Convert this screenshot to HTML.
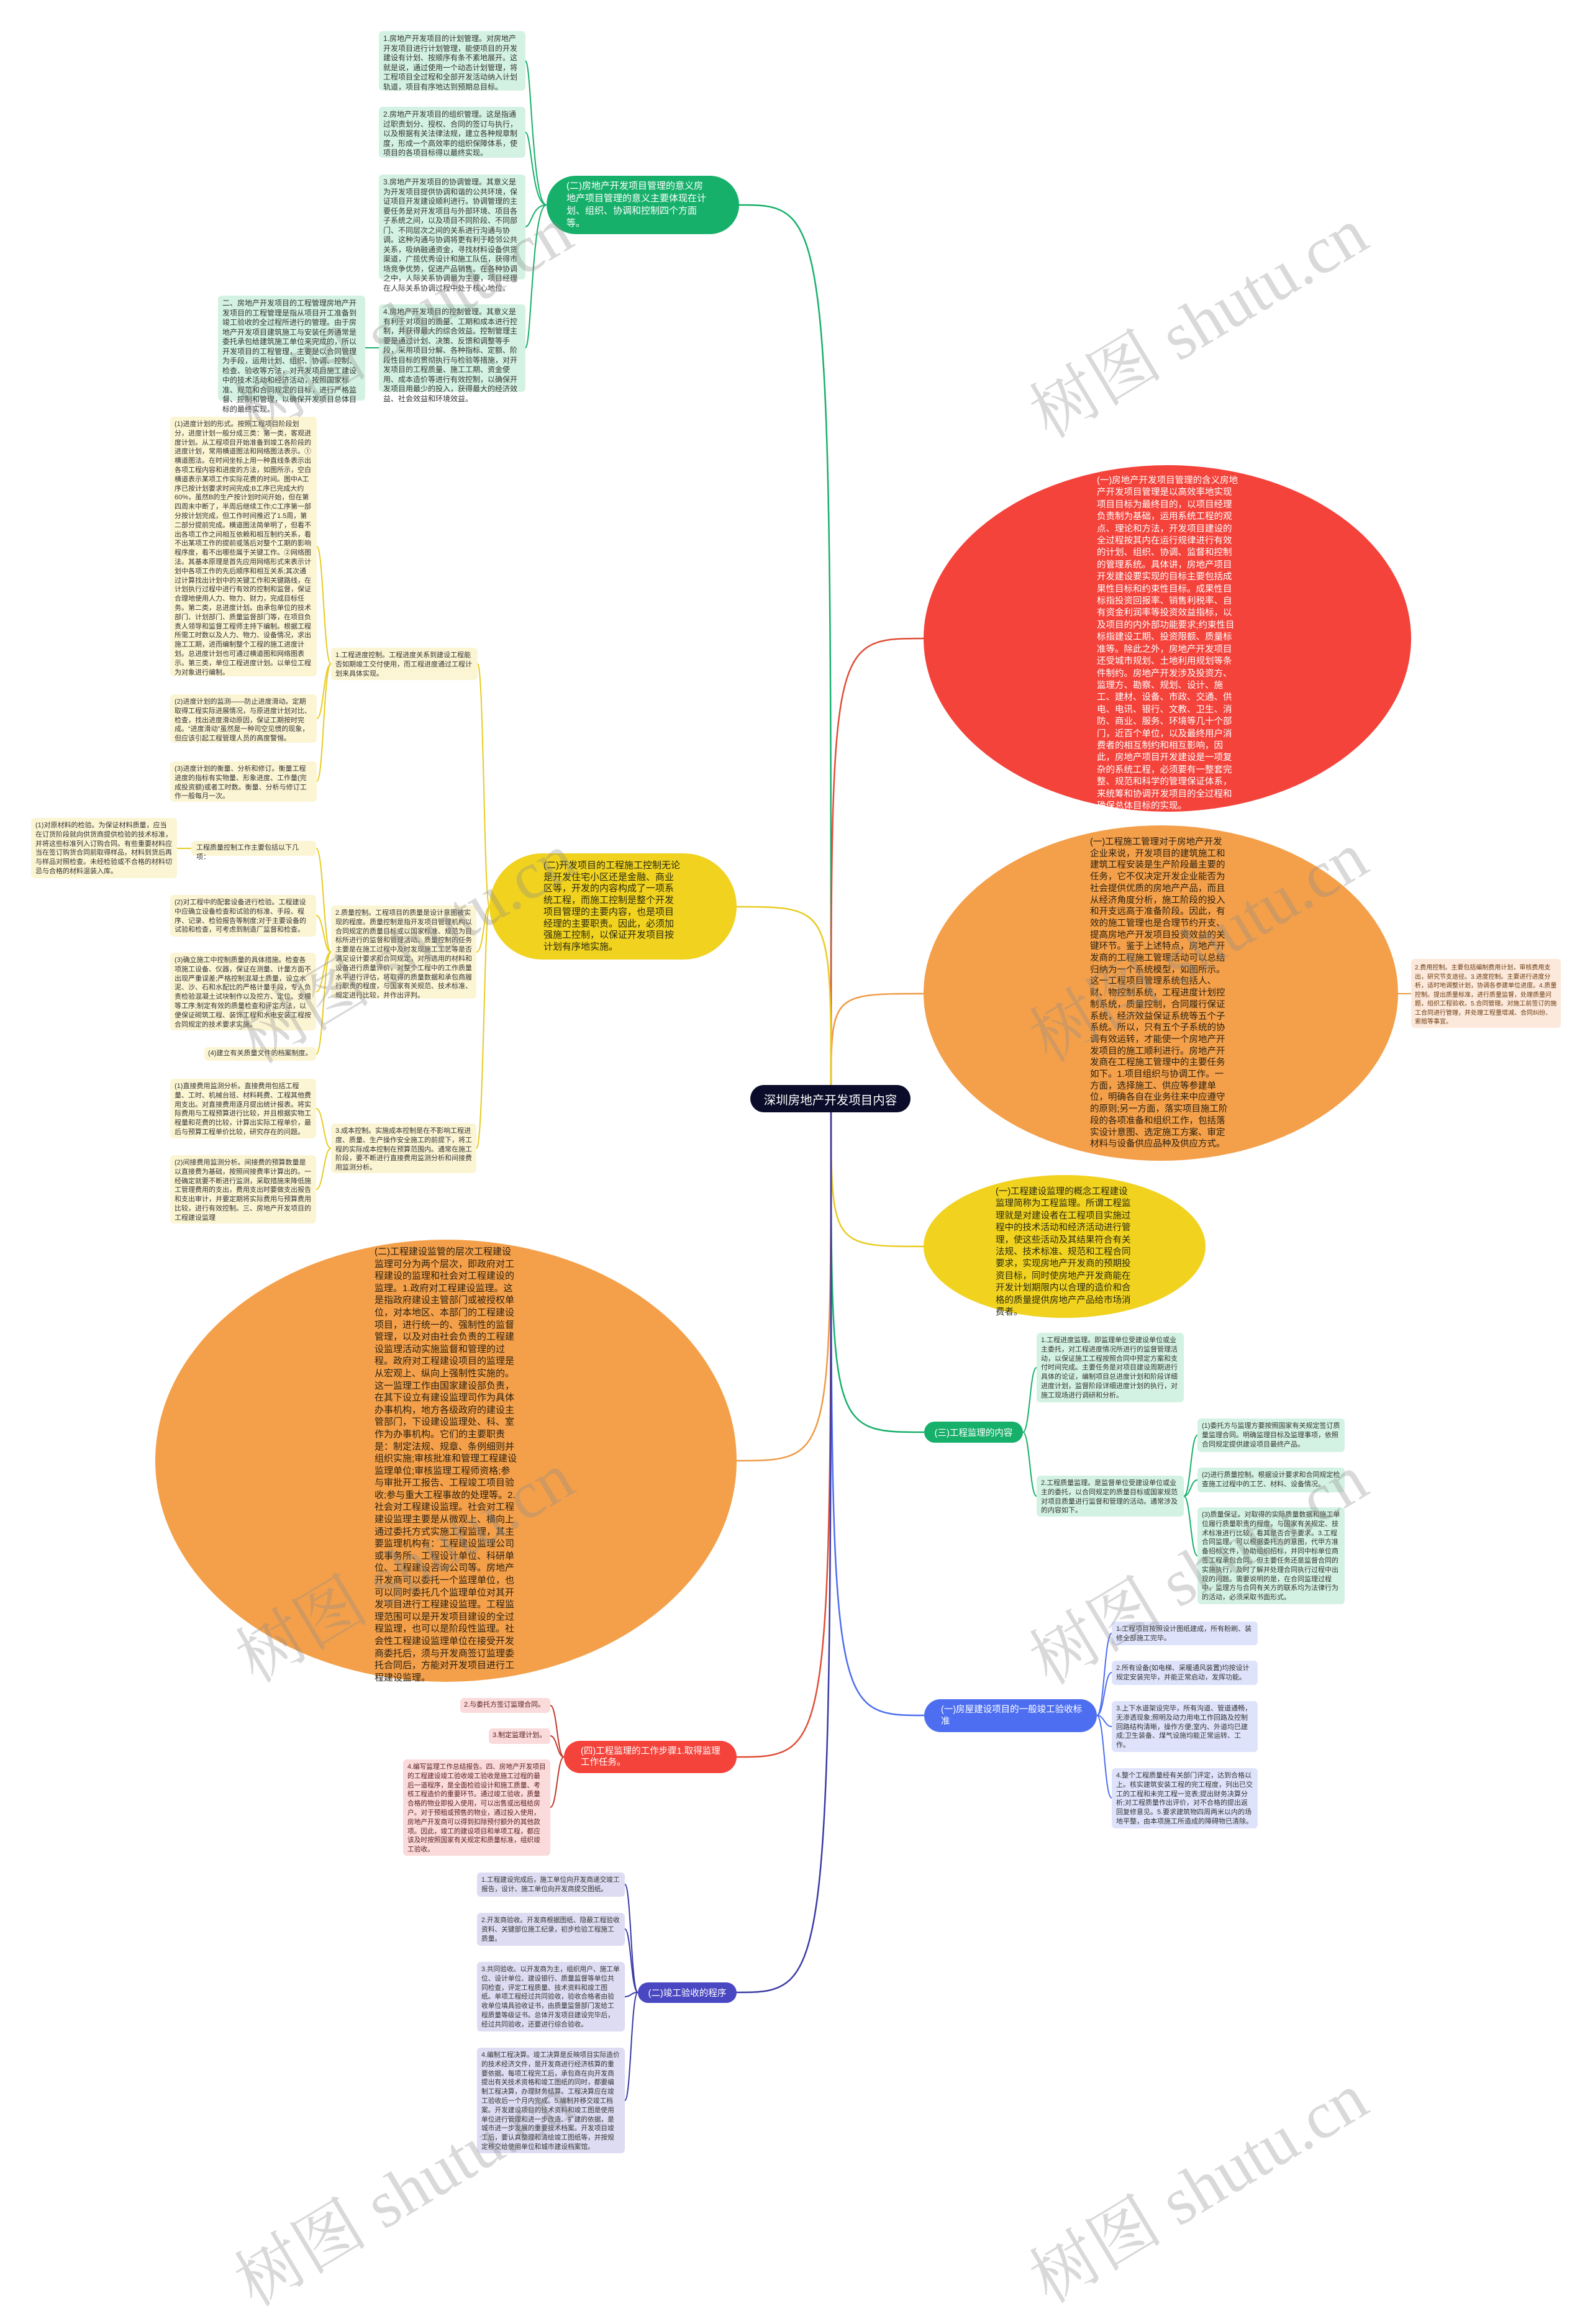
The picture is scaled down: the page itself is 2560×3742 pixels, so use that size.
<!DOCTYPE html>
<html><head><meta charset="utf-8">
<style>
*{box-sizing:border-box;margin:0;padding:0}
body{width:2560px;height:3516px;position:relative;background:#fff;overflow:hidden;font-family:"Liberation Sans","Noto Sans CJK SC",sans-serif;}
.a{position:absolute}
.bx{position:absolute;border-radius:6px;padding:5px 7px;font-size:11px;line-height:14.8px;color:#333;}
.g{background:#d4f2e3}
.y{background:#fcf5d4}
.t{background:#d4f2e3}
.b{background:#dee3fb}
.p{background:#fadada;color:#5a2020}
.u{background:#dddcf2}
.ell{position:absolute;border-radius:50%}
.et{position:absolute;font-size:14.5px;line-height:19.4px}
.node{position:absolute;color:#fff;display:flex;align-items:center}
.wm{position:absolute;font-family:"Liberation Serif","Noto Serif CJK SC",serif;font-size:108px;color:rgba(140,140,140,0.33);white-space:nowrap;transform:translate(-50%,-50%) rotate(-31deg);}
</style></head><body>
<svg class="a" style="left:0;top:0" width="2560" height="3516" fill="none" stroke-width="2.5">
<!-- main connectors -->
<path d="M1338 1760 C1338 330,1338 330,1190 330" stroke="#17b06b"/>
<path d="M1338 1760 C1338 1028,1338 1028,1487 1028" stroke="#e04e37"/>
<path d="M1338 1760 C1338 1600,1338 1600,1487 1600" stroke="#f09a45"/>
<path d="M1338 1780 C1338 2007,1338 2007,1487 2007" stroke="#e8cc22"/>
<path d="M1338 1780 C1338 2306,1338 2306,1488 2306" stroke="#17b06b"/>
<path d="M1338 1780 C1338 2762,1338 2762,1488 2762" stroke="#4d6ef0"/>
<path d="M1338 1760 C1338 1460,1338 1460,1186 1460" stroke="#e8cc22"/>
<path d="M1338 1780 C1338 2352,1338 2352,1186 2352" stroke="#f09a45"/>
<path d="M1338 1780 C1338 2829,1338 2829,1186 2829" stroke="#e04e37"/>
<path d="M1338 1780 C1338 3208,1338 3208,1186 3208" stroke="#3b3aa5"/>
<g stroke-width="2">
<!-- green -->
<g stroke="#17b06b">
<path d="M880 330 C856 330,856 98,846 98"/>
<path d="M880 330 C856 330,856 213,846 213"/>
<path d="M880 330 C856 330,856 365,846 365"/>
<path d="M880 330 C856 330,856 560,846 560"/>
<path d="M610 560 L588 560"/>
</g>
<!-- yellow left -->
<g stroke="#e8cc22">
<path d="M788 1460 C779 1460,779 1069,769 1069"/>
<path d="M788 1460 C779 1460,779 1533,767 1533"/>
<path d="M788 1460 C779 1460,779 1849,767 1849"/>
<path d="M533 1069 C521 1069,521 880,510 880"/>
<path d="M533 1069 C521 1069,521 1157,510 1157"/>
<path d="M533 1069 C521 1069,521 1258,510 1258"/>
<path d="M533 1533 C521 1533,521 1366,509 1366"/>
<path d="M533 1533 C521 1533,521 1474,509 1474"/>
<path d="M533 1533 C521 1533,521 1597,509 1597"/>
<path d="M533 1533 C521 1533,521 1697,509 1697"/>
<path d="M308 1366 L285 1366"/>
<path d="M533 1849 C521 1849,521 1785,509 1785"/>
<path d="M533 1849 C521 1849,521 1915,509 1915"/>
</g>
<path d="M2251 1600 L2272 1600" stroke="#f09a45"/>
<g stroke="#17b06b">
<path d="M1647 2306 C1658 2306,1658 2202,1669 2202"/>
<path d="M1647 2306 C1658 2306,1658 2409,1669 2409"/>
<path d="M1906 2409 C1917 2409,1917 2311,1928 2311"/>
<path d="M1906 2409 C1917 2409,1917 2383,1928 2383"/>
<path d="M1906 2409 C1917 2409,1917 2505,1928 2505"/>
</g>
<g stroke="#4d6ef0">
<path d="M1766 2762 C1778 2762,1778 2630,1790 2630"/>
<path d="M1766 2762 C1778 2762,1778 2693,1790 2693"/>
<path d="M1766 2762 C1778 2762,1778 2780,1790 2780"/>
<path d="M1766 2762 C1778 2762,1778 2895,1790 2895"/>
</g>
<g stroke="#c0392b">
<path d="M908 2829 C897 2829,897 2746,886 2746"/>
<path d="M908 2829 C897 2829,897 2795,886 2795"/>
<path d="M908 2829 C897 2829,897 2910,886 2910"/>
</g>
<g stroke="#3b3aa5">
<path d="M1027 3208 C1016 3208,1016 3034,1006 3034"/>
<path d="M1027 3208 C1016 3208,1016 3106,1006 3106"/>
<path d="M1027 3208 C1016 3208,1016 3215,1006 3215"/>
<path d="M1027 3208 C1016 3208,1016 3382,1006 3382"/>
</g>
</g>
</svg>

<!-- central -->
<div class="node" style="left:1208px;top:1747px;width:258px;height:44px;background:#0b0b2a;border-radius:22px;justify-content:center;font-size:19.5px;">深圳房地产开发项目内容</div>

<!-- green branch -->
<div class="node" style="left:880px;top:283px;width:310px;height:94px;background:#17b06b;border-radius:47px;padding-left:32px;font-size:15px;line-height:20px;"><div style="width:225px">(二)房地产开发项目管理的意义房地产项目管理的意义主要体现在计划、组织、协调和控制四个方面等。</div></div>
<div class="bx g" style="left:610px;top:50px;width:236px;height:96px;font-size:12px;line-height:15.5px">1.房地产开发项目的计划管理。对房地产开发项目进行计划管理，能使项目的开发建设有计划、按顺序有条不紊地展开。这就是说，通过使用一个动态计划管理，将工程项目全过程和全部开发活动纳入计划轨道，项目有序地达到预期总目标。</div>
<div class="bx g" style="left:610px;top:172px;width:236px;height:82px;font-size:12px;line-height:15.5px">2.房地产开发项目的组织管理。这是指通过职责划分、授权、合同的签订与执行，以及根据有关法律法规，建立各种规章制度，形成一个高效率的组织保障体系，使项目的各项目标得以最终实现。</div>
<div class="bx g" style="left:610px;top:281px;width:236px;height:169px;font-size:12px;line-height:15.5px">3.房地产开发项目的协调管理。其意义是为开发项目提供协调和谐的公共环境，保证项目开发建设顺利进行。协调管理的主要任务是对开发项目与外部环境、项目各子系统之间，以及项目不同阶段、不同部门、不同层次之间的关系进行沟通与协调。这种沟通与协调将更有利于睦邻公共关系，吸纳融通资金，寻找材料设备供货渠道，广揽优秀设计和施工队伍，获得市场竞争优势，促进产品销售。在各种协调之中，人际关系协调最为主要，项目经理在人际关系协调过程中处于核心地位。</div>
<div class="bx g" style="left:610px;top:490px;width:236px;height:141px;font-size:12px;line-height:15.5px">4.房地产开发项目的控制管理。其意义是有利于对项目的质量、工期和成本进行控制，并获得最大的综合效益。控制管理主要是通过计划、决策、反馈和调整等手段，采用项目分解、各种指标、定额、阶段性目标的贯彻执行与检验等措施，对开发项目的工程质量、施工工期、资金使用、成本造价等进行有效控制，以确保开发项目用最少的投入，获得最大的经济效益、社会效益和环境效益。</div>
<div class="bx g" style="left:351px;top:476px;width:237px;height:169px;font-size:12px;line-height:15.5px">二、房地产开发项目的工程管理房地产开发项目的工程管理是指从项目开工准备到竣工验收的全过程所进行的管理。由于房地产开发项目建筑施工与安装任务通常是委托承包给建筑施工单位来完成的，所以开发项目的工程管理，主要是以合同管理为手段，运用计划、组织、协调、控制、检查、验收等方法，对开发项目施工建设中的技术活动和经济活动，按照国家标准、规范和合同规定的目标，进行严格监督、控制和管理，以确保开发项目总体目标的最终实现。</div>

<!-- red ellipse -->
<div class="ell" style="left:1487px;top:749px;width:785px;height:558px;background:#f4433b"></div>
<div class="et" style="left:1766px;top:765px;width:228px;color:#fff">(一)房地产开发项目管理的含义房地产开发项目管理是以高效率地实现项目目标为最终目的，以项目经理负责制为基础，运用系统工程的观点、理论和方法，开发项目建设的全过程按其内在运行规律进行有效的计划、组织、协调、监督和控制的管理系统。具体讲，房地产项目开发建设要实现的目标主要包括成果性目标和约束性目标。成果性目标指投资回报率、销售利税率、自有资金利润率等投资效益指标，以及项目的内外部功能要求;约束性目标指建设工期、投资限额、质量标准等。除此之外，房地产开发项目还受城市规划、土地利用规划等条件制约。房地产开发涉及投资方、监理方、勘察、规划、设计、施工、建材、设备、市政、交通、供电、电讯、银行、文教、卫生、消防、商业、服务、环境等几十个部门，近百个单位，以及最终用户消费者的相互制约和相互影响，因此，房地产项目开发建设是一项复杂的系统工程，必须要有一整套完整、规范和科学的管理保证体系，来统筹和协调开发项目的全过程和确保总体目标的实现。</div>

<!-- orange right ellipse -->
<div class="ell" style="left:1487px;top:1329px;width:764px;height:540px;background:#f4a04a"></div>
<div class="et" style="left:1755px;top:1347px;width:226px;color:#2a2010;line-height:18.7px">(一)工程施工管理对于房地产开发企业来说，开发项目的建筑施工和建筑工程安装是生产阶段最主要的任务，它不仅决定开发企业能否为社会提供优质的房地产产品，而且从经济角度分析，施工阶段的投入和开支远高于准备阶段。因此，有效的施工管理也是合理节约开支、提高房地产开发项目投资效益的关键环节。鉴于上述特点，房地产开发商的工程施工管理活动可以总结归纳为一个系统模型，如图所示。这一工程项目管理系统包括人、财、物控制系统，工程进度计划控制系统，质量控制，合同履行保证系统，经济效益保证系统等五个子系统。所以，只有五个子系统的协调有效运转，才能使一个房地产开发项目的施工顺利进行。房地产开发商在工程施工管理中的主要任务如下。1.项目组织与协调工作。一方面，选择施工、供应等参建单位，明确各自在业务往来中应遵守的原则;另一方面，落实项目施工阶段的各项准备和组织工作，包括落实设计意图、选定施工方案、审定材料与设备供应品种及供应方式。</div>
<div class="bx" style="left:2272px;top:1544px;width:241px;height:111px;background:#fce9db;color:#6a3a10;font-size:10px;line-height:14.5px;padding:8px 6px">2.费用控制。主要包括编制费用计划，审核费用支出，研究节支途径。3.进度控制。主要进行进度分析，适时地调整计划，协调各参建单位进度。4.质量控制。提出质量标准，进行质量监督，处理质量问题，组织工程验收。5.合同管理。对施工前签订的施工合同进行管理，并处理工程量增减、合同纠纷、索赔等事宜。</div>

<!-- yellow right ellipse -->
<div class="ell" style="left:1487px;top:1892px;width:454px;height:230px;background:#f0d21f"></div>
<div class="et" style="left:1603px;top:1910px;width:222px;color:#2a2a10">(一)工程建设监理的概念工程建设监理简称为工程监理。所谓工程监理就是对建设者在工程项目实施过程中的技术活动和经济活动进行管理，使这些活动及其结果符合有关法规、技术标准、规范和工程合同要求，实现房地产开发商的预期投资目标，同时使房地产开发商能在开发计划期限内以合理的造价和合格的质量提供房地产产品给市场消费者。</div>

<!-- center-left yellow -->
<div class="ell" style="left:788px;top:1374px;width:398px;height:171px;background:#f0d21f;border-radius:86px"></div>
<div class="et" style="left:875px;top:1385px;width:222px;color:#2a2a10;line-height:18.7px;font-size:15px">(二)开发项目的工程施工控制无论是开发住宅小区还是金融、商业区等，开发的内容构成了一项系统工程，而施工控制是整个开发项目管理的主要内容，也是项目经理的主要职责。因此，必须加强施工控制，以保证开发项目按计划有序地实施。</div>

<div class="bx y" style="left:533px;top:1043px;width:236px;height:52px">1.工程进度控制。工程进度关系到建设工程能否如期竣工交付使用，而工程进度通过工程计划来具体实现。</div>
<div class="bx y" style="left:274px;top:671px;width:236px;height:418px">(1)进度计划的形式。按照工程项目阶段划分，进度计划一般分成三类：第一类，客观进度计划。从工程项目开始准备到竣工各阶段的进度计划，常用横道图法和网络图法表示。①横道图法。在时间坐标上用一种直线条表示出各项工程内容和进度的方法，如图所示，空白横道表示某项工作实际花费的时间。图中A工序已按计划要求时间完成;B工序已完成大约60%，虽然B的生产按计划时间开始，但在第四周末中断了，半周后继续工作;C工序第一部分按计划完成，但工作时间推迟了1.5周，第二部分提前完成。横道图法简单明了，但看不出各项工作之间相互依赖和相互制约关系，看不出某项工作的提前或落后对整个工期的影响程序度，看不出哪些属于关键工作。②网络图法。其基本原理是首先应用网络形式来表示计划中各项工作的先后顺序和相互关系;其次通过计算找出计划中的关键工作和关键路线，在计划执行过程中进行有效的控制和监督，保证合理地使用人力、物力、财力，完成目标任务。第二类，总进度计划。由承包单位的技术部门、计划部门、质量监督部门等，在项目负责人领导和监督工程师主持下编制。根据工程所需工时数以及人力、物力、设备情况，求出施工工期，进而编制整个工程的施工进度计划。总进度计划也可通过横道图和网络图表示。第三类，单位工程进度计划。以单位工程为对象进行编制。</div>
<div class="bx y" style="left:274px;top:1118px;width:236px;height:78px">(2)进度计划的监测——防止进度滑动。定期取得工程实际进展情况，与原进度计划对比、检查，找出进度滑动原因，保证工期按时完成。“进度滑动”虽然是一种司空见惯的现象，但应该引起工程管理人员的高度警惕。</div>
<div class="bx y" style="left:274px;top:1226px;width:236px;height:65px">(3)进度计划的衡量、分析和修订。衡量工程进度的指标有实物量、形象进度、工作量(完成投资额)或者工时数。衡量、分析与修订工作一般每月一次。</div>
<div class="bx y" style="left:533px;top:1458px;width:234px;height:150px">2.质量控制。工程项目的质量是设计意图被实现的程度。质量控制是指开发项目管理机构以合同规定的质量目标或以国家标准、规范为目标所进行的监督和管理活动。质量控制的任务主要是在施工过程中及时发现施工工艺等是否满足设计要求和合同规定，对所选用的材料和设备进行质量评价，对整个工程中的工作质量水平进行评估，将取得的质量数据和承包商履行职责的程度，与国家有关规范、技术标准、规定进行比较，并作出评判。</div>
<div class="bx y" style="left:308px;top:1354px;width:201px;height:24px;padding:4px 8px">工程质量控制工作主要包括以下几项：</div>
<div class="bx y" style="left:50px;top:1317px;width:235px;height:97px">(1)对原材料的检验。为保证材料质量，应当在订货阶段就向供货商提供检验的技术标准，并将这些标准列入订购合同。有些重要材料应当在签订购货合同前取得样品，材料到货后再与样品对照检查。未经检验或不合格的材料切忌与合格的材料混装入库。</div>
<div class="bx y" style="left:274px;top:1441px;width:235px;height:67px">(2)对工程中的配套设备进行检验。工程建设中应确立设备检查和试验的标准、手段、程序、记录、检验报告等制度;对于主要设备的试验和检查，可考虑到制造厂监督和检查。</div>
<div class="bx y" style="left:274px;top:1534px;width:235px;height:125px">(3)确立施工中控制质量的具体措施。检查各项施工设备、仪器，保证在测量、计量方面不出现严重误差;严格控制混凝土质量，设立水泥、沙、石和水配比的严格计量手段，专人负责检验混凝土试块制作以及挖方、定位、支模等工序;制定有效的质量检查和评定方法，以便保证砌筑工程、装饰工程和水电安装工程按合同规定的技术要求实施。</div>
<div class="bx y" style="left:329px;top:1686px;width:180px;height:22px;padding:3px 6px">(4)建立有关质量文件的档案制度。</div>
<div class="bx y" style="left:533px;top:1809px;width:234px;height:80px">3.成本控制。实施成本控制是在不影响工程进度、质量、生产操作安全施工的前提下，将工程的实际成本控制在预算范围内。通常在施工阶段，要不断进行直接费用监测分析和间接费用监测分析。</div>
<div class="bx y" style="left:274px;top:1737px;width:235px;height:96px">(1)直接费用监测分析。直接费用包括工程量、工时、机械台班、材料耗费、工程其他费用支出。对直接费用逐月提出统计报表。将实际费用与工程预算进行比较，并且根据实物工程量和花费的比较，计算出实际工程单价，最后与预算工程单价比较，研究存在的问题。</div>
<div class="bx y" style="left:274px;top:1860px;width:235px;height:110px">(2)间接费用监测分析。间接费的预算数量是以直接费为基础，按照间接费率计算出的。一经确定就要不断进行监测，采取措施来降低施工管理费用的支出，费用支出时要做支出报告和支出审计，并要定期将实际费用与预算费用比较，进行有效控制。三、房地产开发项目的工程建设监理</div>

<!-- left orange ellipse -->
<div class="ell" style="left:250px;top:1996px;width:936px;height:712px;background:#f4a04a"></div>
<div class="et" style="left:603px;top:2006px;width:230px;color:#2a2010;font-size:15px;line-height:19.6px">(二)工程建设监管的层次工程建设监理可分为两个层次，即政府对工程建设的监理和社会对工程建设的监理。1.政府对工程建设监理。这是指政府建设主管部门或被授权单位，对本地区、本部门的工程建设项目，进行统一的、强制性的监督管理，以及对由社会负责的工程建设监理活动实施监督和管理的过程。政府对工程建设项目的监理是从宏观上、纵向上强制性实施的。这一监理工作由国家建设部负责，在其下设立有建设监理司作为具体办事机构，地方各级政府的建设主管部门，下设建设监理处、科、室作为办事机构。它们的主要职责是：制定法规、规章、条例细则并组织实施;审核批准和管理工程建设监理单位;审核监理工程师资格;参与审批开工报告、工程竣工项目验收;参与重大工程事故的处理等。2.社会对工程建设监理。社会对工程建设监理主要是从微观上、横向上通过委托方式实施工程监理，其主要监理机构有：工程建设监理公司或事务所、工程设计单位、科研单位、工程建设咨询公司等。房地产开发商可以委托一个监理单位，也可以同时委托几个监理单位对其开发项目进行工程建设监理。工程监理范围可以是开发项目建设的全过程监理，也可以是阶段性监理。社会性工程建设监理单位在接受开发商委托后，须与开发商签订监理委托合同后，方能对开发项目进行工程建设监理。</div>

<!-- teal branch -->
<div class="node" style="left:1488px;top:2289px;width:159px;height:34px;background:#17b06b;border-radius:17px;justify-content:center;font-size:14.5px">(三)工程监理的内容</div>
<div class="bx t" style="left:1669px;top:2146px;width:237px;height:112px">1.工程进度监理。即监理单位受建设单位或业主委托，对工程进度情况所进行的监督管理活动，以保证施工工程按照合同中预定方案和支付时间完成。主要任务是对项目建设周期进行具体的论证，编制项目总进度计划和阶段详细进度计划，监督阶段详细进度计划的执行，对施工现场进行调研和分析。</div>
<div class="bx t" style="left:1669px;top:2376px;width:237px;height:66px">2.工程质量监理。是监督单位受建设单位或业主的委托，以合同规定的质量目标或国家规范对项目质量进行监督和管理的活动。通常涉及的内容如下。</div>
<div class="bx t" style="left:1928px;top:2284px;width:237px;height:54px">(1)委托方与监理方要按照国家有关规定签订质量监理合同。明确监理目标及监理事项，依照合同规定提供建设项目最终产品。</div>
<div class="bx t" style="left:1928px;top:2363px;width:237px;height:40px">(2)进行质量控制。根据设计要求和合同规定检查施工过程中的工艺、材料、设备情况。</div>
<div class="bx t" style="left:1928px;top:2427px;width:237px;height:156px">(3)质量保证。对取得的实际质量数据和施工单位履行质量职责的程度，与国家有关规定、技术标准进行比较，看其是否合乎要求。3.工程合同监理。可以根据委托方的意图，代甲方准备招标文件，协助组织招标，并同中标单位商签工程承包合同。但主要任务还是监督合同的实施执行，及时了解并处理合同执行过程中出现的问题。需要说明的是，在合同监理过程中，监理方与合同有关方的联系均为法律行为的活动，必须采取书面形式。</div>

<!-- blue branch -->
<div class="node" style="left:1488px;top:2736px;width:278px;height:53px;background:#4d6ef0;border-radius:27px;padding-left:27px;font-size:14.5px;line-height:18.5px"><div style="width:230px">(一)房屋建设项目的一般竣工验收标准</div></div>
<div class="bx b" style="left:1790px;top:2611px;width:235px;height:38px">1.工程项目按照设计图纸建成，所有粉刷、装修全部施工完毕。</div>
<div class="bx b" style="left:1790px;top:2674px;width:235px;height:39px">2.所有设备(如电梯、采暖通风装置)均按设计规定安装完毕，并能正常启动，发挥功能。</div>
<div class="bx b" style="left:1790px;top:2739px;width:235px;height:82px">3.上下水道架设完毕，所有沟道、管道通畅，无渗透现象;照明及动力用电工作回路及控制回路结构清晰，操作方便;室内、外道均已建成;卫生装备、煤气设施均能正常运转、工作。</div>
<div class="bx b" style="left:1790px;top:2847px;width:235px;height:97px">4.整个工程质量经有关部门评定，达到合格以上。核实建筑安装工程的完工程度，列出已交工的工程和未完工程一览表;提出财务决算分析;对工程质量作出评价，对不合格的提出返回复修意见。5.要求建筑物四周两米以内的场地平整，由本项施工所造成的障碍物已清除。</div>

<!-- red node branch -->
<div class="node" style="left:908px;top:2803px;width:278px;height:52px;background:#f4433b;border-radius:26px;padding-left:27px;font-size:14.5px;line-height:18.5px"><div style="width:230px">(四)工程监理的工作步骤1.取得监理工作任务。</div></div>
<div class="bx p" style="left:741px;top:2734px;width:145px;height:24px;padding:4px 6px">2.与委托方签订监理合同。</div>
<div class="bx p" style="left:787px;top:2783px;width:99px;height:25px;padding:4px 6px">3.制定监理计划。</div>
<div class="bx p" style="left:649px;top:2833px;width:237px;height:155px;font-size:10.7px">4.编写监理工作总结报告。四、房地产开发项目的工程建设竣工验收竣工验收是施工过程的最后一道程序，是全面检验设计和施工质量、考核工程造价的重要环节。通过竣工验收，质量合格的物业即投入使用，可以出售或出租给房户。对于预租或预售的物业，通过投入使用，房地产开发商可以得到扣除预付额外的其他款项。因此，竣工的建设项目和单项工程，都应该及时按照国家有关规定和质量标准，组织竣工验收。</div>

<!-- purple branch -->
<div class="node" style="left:1027px;top:3192px;width:159px;height:33px;background:#4a47c2;border-radius:17px;justify-content:center;font-size:14.5px">(二)竣工验收的程序</div>
<div class="bx u" style="left:768px;top:3015px;width:238px;height:39px;font-size:10.7px">1.工程建设完成后，施工单位向开发商递交竣工报告，设计、施工单位向开发商提交图纸。</div>
<div class="bx u" style="left:768px;top:3080px;width:238px;height:53px;font-size:10.7px">2.开发商验收。开发商根据图纸、隐蔽工程验收资料、关键部位施工纪录，初步检验工程施工质量。</div>
<div class="bx u" style="left:768px;top:3159px;width:238px;height:112px;font-size:10.7px">3.共同验收。以开发商为主，组织用户、施工单位、设计单位、建设银行、质量监督等单位共同检查，评定工程质量、技术资料和竣工图纸。单项工程经过共同验收，验收合格者由验收单位填具验收证书，由质量监督部门发给工程质量等级证书。总体开发项目建设完毕后，经过共同验收，还要进行综合验收。</div>
<div class="bx u" style="left:768px;top:3297px;width:238px;height:170px;font-size:10.7px">4.编制工程决算。竣工决算是反映项目实际造价的技术经济文件，是开发商进行经济核算的重要依据。每项工程完工后，承包商在向开发商提出有关技术资格和竣工图纸的同时，都要编制工程决算，办理财务结算。工程决算应在竣工验收后一个月内完成。5.编制并移交竣工档案。开发建设项目的技术资料和竣工图是使用单位进行管理和进一步改造、扩建的依据，是城市进一步发展的重要技术档案。开发项目竣工后，要认真整理和清绘竣工图纸等，并按规定移交给使用单位和城市建设档案馆。</div>

<!-- watermarks -->
<div class="wm" style="left:645px;top:510px">树图 shutu.cn</div>
<div class="wm" style="left:1925px;top:512px">树图 shutu.cn</div>
<div class="wm" style="left:650px;top:1519px">树图 shutu.cn</div>
<div class="wm" style="left:1925px;top:1517px">树图 shutu.cn</div>
<div class="wm" style="left:647px;top:2516px">树图 shutu.cn</div>
<div class="wm" style="left:1925px;top:2519px">树图 shutu.cn</div>
<div class="wm" style="left:645px;top:3520px">树图 shutu.cn</div>
<div class="wm" style="left:1925px;top:3515px">树图 shutu.cn</div>
</body></html>
